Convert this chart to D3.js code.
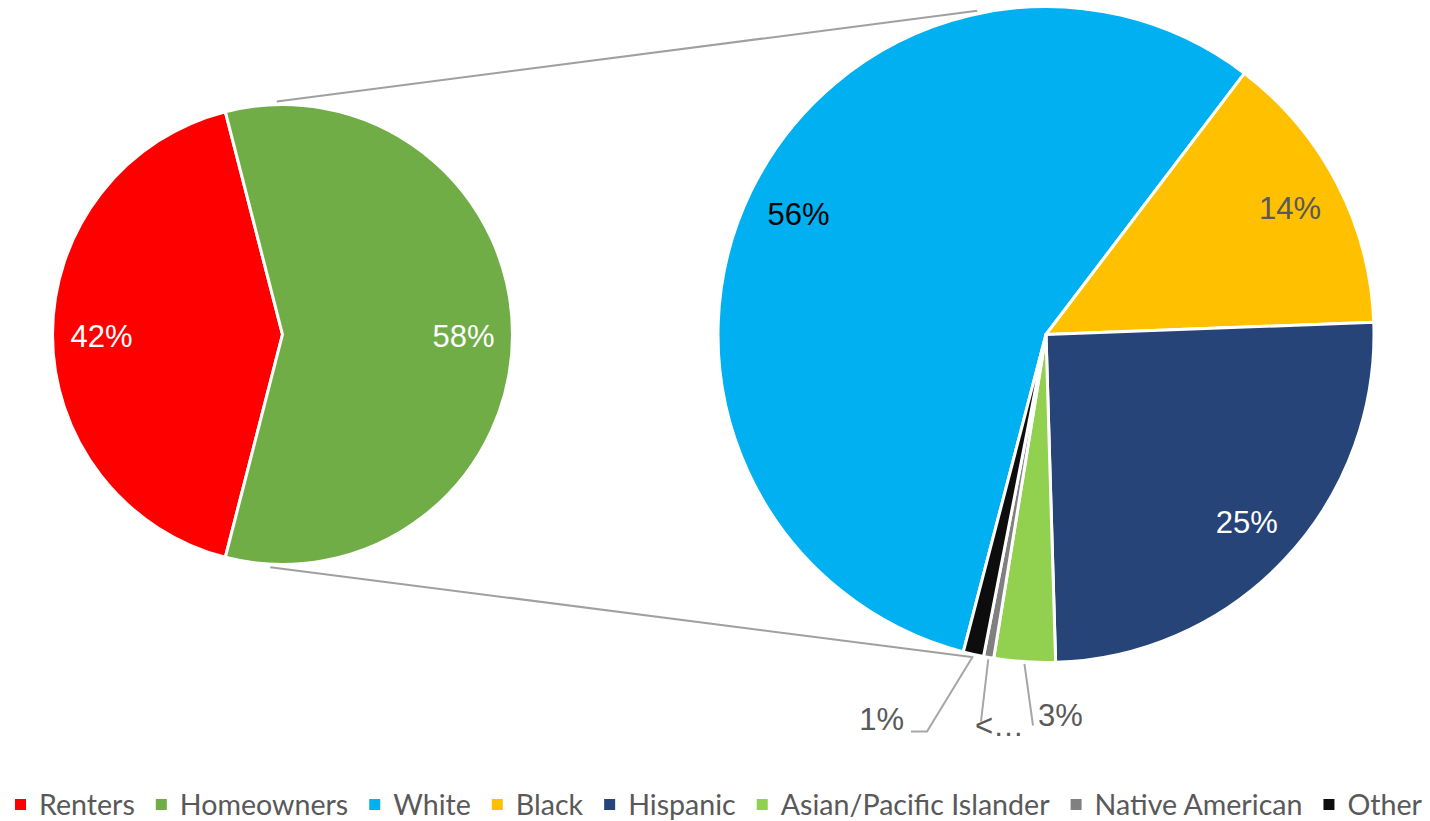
<!DOCTYPE html>
<html>
<head>
<meta charset="utf-8">
<script src="https://cdn.jsdelivr.net/npm/d3@7/dist/d3.min.js"></script>
<style>
  html, body { margin: 0; padding: 0; background: #ffffff; }
  svg { display: block; }
</style>
</head>
<body>
<svg id="chart" width="1430" height="821"></svg>
<script>
// Housing tenure split and the racial/ethnic breakdown of homeowners
const tenureCategories = ["Renters", "Homeowners"];
const tenureValues = [42, 58];
const tenureLabels = ["42%", "58%"];

const ownerCategories = ["White", "Black", "Hispanic", "Asian/Pacific Islander", "Native American", "Other"];
const ownerValues = [56, 14, 25, 3, 0.5, 1];
const ownerLabels = ["56%", "14%", "25%", "3%", "<…", "1%"];

const legendCategories = tenureCategories.concat(ownerCategories);

const palette = {
  "Renters": "#FF0000",
  "Homeowners": "#70AD47",
  "White": "#00B0F0",
  "Black": "#FFC000",
  "Hispanic": "#264478",
  "Asian/Pacific Islander": "#92D050",
  "Native American": "#808080",
  "Other": "#0D0D0D"
};
const labelInk = {
  "Renters": "#FFFFFF",
  "Homeowners": "#FFFFFF",
  "White": "#000000",
  "Black": "#595959",
  "Hispanic": "#FFFFFF",
  "Asian/Pacific Islander": "#595959",
  "Native American": "#595959",
  "Other": "#595959"
};

const svg = d3.select("#chart");
const deg = Math.PI / 180;
const labelFont = "'Liberation Sans', Arial, sans-serif";

// Geometry of the two pies
const mainPie = { cx: 282.5, cy: 334.5, r: 230, labelR: 181 };
const subPie = { cx: 1046, cy: 334.5, r: 328, labelR: 275 };

function polar(p, radius, angleDeg) {
  const a = angleDeg * deg;
  return [p.cx + radius * Math.sin(a), p.cy - radius * Math.cos(a)];
}

// Connector lines from the homeowners slice to the breakdown pie
const connectors = [
  [polar(mainPie, mainPie.r + 3, -1.4), polar(subPie, subPie.r + 3, -12)],
  [polar(mainPie, mainPie.r + 3, 183), polar(subPie, subPie.r + 3, 193)]
];
svg.append("g")
  .selectAll("line")
  .data(connectors)
  .join("line")
  .attr("x1", d => d[0][0]).attr("y1", d => d[0][1])
  .attr("x2", d => d[1][0]).attr("y2", d => d[1][1])
  .attr("stroke", "#A0A0A0")
  .attr("stroke-width", 2);

// ---- Main pie: renters vs homeowners (homeowners centred on the right) ----
const renterShare = tenureValues[0] / d3.sum(tenureValues);
const mainStart = -Math.PI / 2 - renterShare * Math.PI;
const mainArcs = d3.pie().sort(null)
  .startAngle(mainStart).endAngle(mainStart + 2 * Math.PI)
  (tenureValues)
  .map((a, i) => Object.assign(a, { cat: tenureCategories[i], label: tenureLabels[i] }));

const mainArc = d3.arc().innerRadius(0).outerRadius(mainPie.r);
const mainLabelArc = d3.arc().innerRadius(mainPie.labelR).outerRadius(mainPie.labelR);

const gMain = svg.append("g").attr("transform", `translate(${mainPie.cx},${mainPie.cy})`);
gMain.selectAll("path")
  .data(mainArcs)
  .join("path")
  .attr("d", mainArc)
  .attr("fill", d => palette[d.cat])
  .attr("stroke", "#FFFFFF")
  .attr("stroke-width", 3)
  .attr("stroke-linejoin", "round");
gMain.selectAll("text")
  .data(mainArcs)
  .join("text")
  .attr("transform", d => `translate(${mainLabelArc.centroid(d)})`)
  .attr("text-anchor", "middle")
  .attr("dy", "0.4em")
  .attr("font-family", labelFont)
  .attr("font-size", 31)
  .attr("fill", d => labelInk[d.cat])
  .text(d => d.label);

// ---- Breakdown pie: homeowners by race/ethnicity ----
const subStart = -165.4 * deg;
const subArcs = d3.pie().sort(null)
  .startAngle(subStart).endAngle(subStart + 2 * Math.PI)
  (ownerValues)
  .map((a, i) => Object.assign(a, { cat: ownerCategories[i], label: ownerLabels[i] }));

const subArc = d3.arc().innerRadius(0).outerRadius(subPie.r);
const subLabelArc = d3.arc().innerRadius(subPie.labelR).outerRadius(subPie.labelR);

const gSub = svg.append("g").attr("transform", `translate(${subPie.cx},${subPie.cy})`);
gSub.selectAll("path")
  .data(subArcs)
  .join("path")
  .attr("d", subArc)
  .attr("fill", d => palette[d.cat])
  .attr("stroke", "#FFFFFF")
  .attr("stroke-width", 3)
  .attr("stroke-linejoin", "round");

// Small slices get their labels outside the pie with leader lines
const outsideLayout = {
  "Asian/Pacific Islander": { bend: null, end: [-13, 391], text: [-8, 391], anchor: "start" },
  "Native American": { bend: null, end: [-65, 387], text: [-71, 401], anchor: "start" },
  "Other": { bend: [-119, 397], end: [-135, 397], text: [-142, 395.5], anchor: "end" }
};

const insideArcs = subArcs.filter(d => !outsideLayout[d.cat]);
const outsideArcs = subArcs.filter(d => outsideLayout[d.cat]);

gSub.selectAll("text.inside")
  .data(insideArcs)
  .join("text")
  .attr("class", "inside")
  .attr("transform", d => `translate(${subLabelArc.centroid(d)})`)
  .attr("text-anchor", "middle")
  .attr("dy", "0.35em")
  .attr("font-family", labelFont)
  .attr("font-size", 31)
  .attr("fill", d => labelInk[d.cat])
  .text(d => d.label);

gSub.selectAll("polyline.leader")
  .data(outsideArcs)
  .join("polyline")
  .attr("class", "leader")
  .attr("fill", "none")
  .attr("stroke", "#A6A6A6")
  .attr("stroke-width", 2)
  .attr("points", d => {
    const L = outsideLayout[d.cat];
    const mid = (d.startAngle + d.endAngle) / 2;
    const start = [(subPie.r + 2) * Math.sin(mid), -(subPie.r + 2) * Math.cos(mid)];
    const pts = [start];
    if (L.bend) pts.push(L.bend);
    pts.push(L.end);
    return pts.map(p => p.join(",")).join(" ");
  });

gSub.selectAll("text.outside")
  .data(outsideArcs)
  .join("text")
  .attr("class", "outside")
  .attr("x", d => outsideLayout[d.cat].text[0])
  .attr("y", d => outsideLayout[d.cat].text[1])
  .attr("text-anchor", d => outsideLayout[d.cat].anchor)
  .attr("font-family", labelFont)
  .attr("font-size", 31)
  .attr("fill", d => labelInk[d.cat])
  .text(d => d.label);

// ---- Legend across the bottom ----
const legendLeft = 15, legendRight = 1422, legendBaseline = 815;
const swatch = 11, textOffset = 24, itemGap = 21;
const gLegend = svg.append("g");
const items = gLegend.selectAll("g.item")
  .data(legendCategories)
  .join("g")
  .attr("class", "item");
items.append("rect")
  .attr("width", swatch).attr("height", swatch)
  .attr("y", legendBaseline - 16)
  .attr("fill", d => palette[d]);
const texts = items.append("text")
  .attr("x", textOffset)
  .attr("y", legendBaseline)
  .attr("font-family", "Lato, 'Open Sans', sans-serif")
  .attr("font-size", 28)
  .attr("fill", "#595959")
  .text(d => d);

const widths = [];
texts.each(function () { widths.push(this.getComputedTextLength()); });
const fixed = legendCategories.length * textOffset + (legendCategories.length - 1) * itemGap;
const k = (legendRight - legendLeft - fixed) / d3.sum(widths);
let cursor = legendLeft;
items.each(function (d, i) {
  const w = widths[i] * k;
  d3.select(this).attr("transform", `translate(${cursor},0)`);
  d3.select(this).select("text")
    .attr("textLength", w)
    .attr("lengthAdjust", "spacingAndGlyphs");
  cursor += textOffset + w + itemGap;
});
</script>
</body>
</html>
